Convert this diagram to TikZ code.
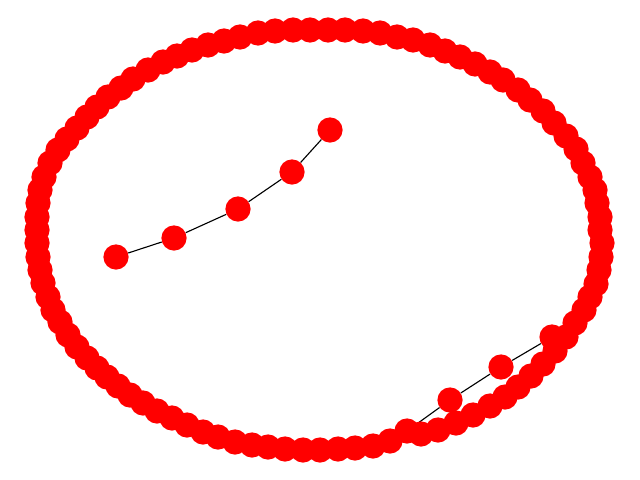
\documentclass[tikz,border=0pt]{standalone}
\usetikzlibrary{backgrounds}
\definecolor{nodered}{HTML}{FF0000}

\begin{document}
\begin{tikzpicture}[x=0.025cm, y=-0.025cm,
    vert/.style={circle, fill=nodered, inner sep=0pt, minimum size=0.63cm},
    link/.style={black, line width=0.8pt}]
  \useasboundingbox (0,0) rectangle (640,480);
  % outer cycle, clockwise from the top
  \foreach \x/\y [count=\i] in {
      310/30, 328/30, 345/30, 363/31, 380/33, 397/37, 413/40, 430/45, 445/51, 460/57,
      475/64, 490/72, 503/80, 518/90, 530/100, 543/111, 554/123, 566/136, 576/149, 583/163,
      590/177, 595/190, 597/203, 600/217, 600/230, 602/243, 601/257, 599/270, 596/284, 590/297,
      584/310, 575/323, 566/337, 555/351, 543/364, 531/376, 518/387, 505/397, 490/406, 473/415,
      456/423, 438/430, 421/434, 407/431, 390/441, 373/446, 355/448, 338/449, 320/450, 303/450,
      285/449, 268/447, 252/445, 235/442, 218/437, 203/432, 187/425, 172/418, 157/411, 143/403,
      130/395, 118/386, 107/377, 97/368, 87/358, 77/347, 68/335, 60/322, 53/310, 48/297,
      43/283, 40/270, 38/257, 37/243, 37/230, 37/217, 38/203, 40/190, 44/177, 50/163,
      58/150, 67/139, 77/128, 87/117, 97/107, 108/97, 121/88, 133/79, 148/70, 163/62,
      177/56, 192/50, 208/45, 224/41, 240/37, 258/33, 275/31, 293/30}
    \node[vert] (r\i) at (\x,\y) {};
  % loose path inside
  \foreach \x/\y [count=\i] in {116/257, 174/238, 238/209, 292/172, 330/130}
    \node[vert] (p\i) at (\x,\y) {};
  % short cut across the lower right
  \foreach \x/\y [count=\i] in {450/400, 501/367, 552/337}
    \node[vert] (c\i) at (\x,\y) {};
  \begin{scope}[on background layer]
    \draw[link] (p1) -- (p2) -- (p3) -- (p4) -- (p5);
    \draw[link] (r44) -- (c1) -- (c2) -- (c3) -- (r32);
  \end{scope}
\end{tikzpicture}
\end{document}
